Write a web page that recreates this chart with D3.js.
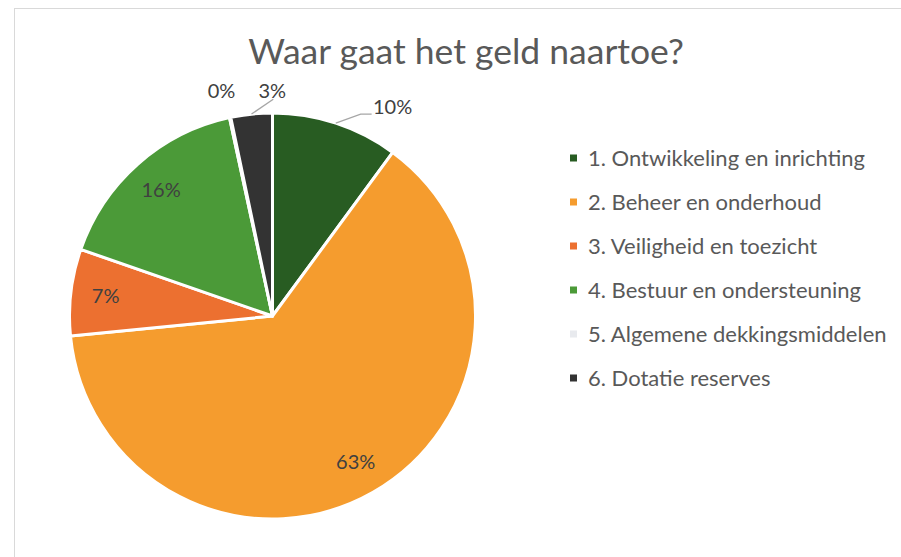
<!DOCTYPE html>
<html>
<head>
<meta charset="utf-8">
<script src="https://cdn.jsdelivr.net/npm/d3@7"></script>
<style>
  body { margin: 0; background: #fff; }
  svg text { font-family: Lato, "Open Sans", sans-serif; }
</style>
</head>
<body>
<svg id="chart" width="901" height="557"></svg>
<script>
// data
let categories = ["1. Ontwikkeling en inrichting", "2. Beheer en onderhoud", "3. Veiligheid en toezicht",
                  "4. Bestuur en ondersteuning", "5. Algemene dekkingsmiddelen", "6. Dotatie reserves"];
let shares = [10.1, 63.4, 6.9, 16.3, 0.1, 3.3];
let colors = ["#285c22", "#f59c2e", "#ec7030", "#4b9a38", "#e8eaee", "#333333"];
let title = "Waar gaat het geld naartoe?";

let svg = d3.select("#chart");
let W = 901, H = 557;

// chart frame
svg.append("rect")
    .attr("x", 14.5).attr("y", 8.5)
    .attr("width", W).attr("height", H)
    .attr("fill", "#fff").attr("stroke", "#d9d9d9");

svg.append("text")
    .attr("x", 466).attr("y", 64)
    .attr("text-anchor", "middle")
    .attr("font-size", 35.5)
    .attr("fill", "#595959")
    .text(title);

let cx = 272.5, cy = 316, R = 203;
let total = d3.sum(shares);
let fmt = v => Math.round(v / total * 100) + "%";

let data = categories.map((c, i) => ({name: c, value: shares[i], color: colors[i]}));

let pie = d3.pie().sort(null).value(d => d.value);
let arcs = pie(data);
let arc = d3.arc().innerRadius(0).outerRadius(R);

let g = svg.append("g").attr("transform", "translate(" + cx + "," + cy + ")");

g.selectAll("path")
    .data(arcs)
    .enter()
    .append("path")
    .attr("d", arc)
    .attr("fill", d => d.data.color)
    .attr("stroke", "#fff")
    .attr("stroke-width", 3)
    .attr("stroke-linejoin", "round");

// labels: big slices inside, small ones outside
let inner = d3.arc().innerRadius(168).outerRadius(168);
let outer = d3.arc().innerRadius(225).outerRadius(225);
// best-fit nudges for outside labels (pixels)
let nudge = {0: [50, 5], 4: [-4, -5], 5: [23, -1]};

arcs.forEach((d, i) => {
    let pct = d.value / total;
    if (pct > 0.05 && !(i in nudge)) {
        let [x, y] = inner.centroid(d);
        g.append("text")
            .attr("x", x).attr("y", y)
            .attr("dy", "0.35em")
            .attr("text-anchor", "middle")
            .attr("font-size", 20)
            .attr("fill", "#404040")
            .text(fmt(d.value));
    } else {
        let [x, y] = outer.centroid(d);
        x += nudge[i][0]; y += nudge[i][1];
        g.append("text")
            .attr("x", x).attr("y", y)
            .attr("dy", "0.35em")
            .attr("text-anchor", "middle")
            .attr("font-size", 20)
            .attr("fill", "#404040")
            .text(fmt(d.value));
        let mid = (d.startAngle + d.endAngle) / 2;
        let ex = R * Math.sin(mid), ey = -R * Math.cos(mid);
        let pts = null;
        if (i == 0) pts = [[ex, ey], [x - 32, y + 7], [x - 21, y + 7]];
        if (i == 5) pts = [[ex, ey], [x + 1, y + 8]];
        if (pts) {
            g.append("path")
                .attr("d", d3.line()(pts))
                .attr("fill", "none")
                .attr("stroke", "#a6a6a6")
                .attr("stroke-width", 1.3);
        }
    }
});

// legend
let legend = svg.append("g").attr("transform", "translate(570,158)");
let ly = d3.scalePoint().domain(categories).range([0, 220]);

let items = legend.selectAll("g")
    .data(data)
    .enter()
    .append("g")
    .attr("transform", d => "translate(0," + ly(d.name) + ")");

items.append("rect")
    .attr("x", 0).attr("y", -3.5)
    .attr("width", 7).attr("height", 7)
    .attr("fill", d => d.color);

items.append("text")
    .attr("x", 18).attr("y", 0)
    .attr("dy", "0.35em")
    .attr("font-size", 22)
    .attr("fill", "#595959")
    .text(d => d.name);
</script>
</body>
</html>
